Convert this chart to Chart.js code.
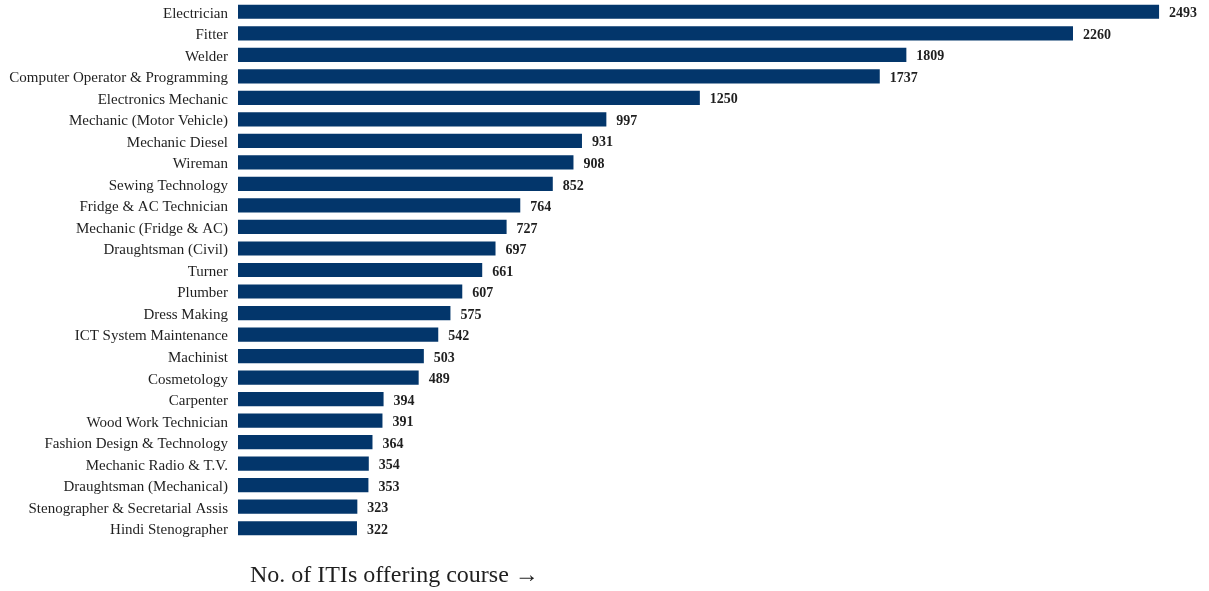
<!DOCTYPE html>
<html>
<head>
<meta charset="utf-8">
<script src="https://cdn.jsdelivr.net/npm/chart.js@4/dist/chart.umd.min.js"></script>
<style>
  html, body { margin: 0; padding: 0; background: #fff; }
  #wrap { width: 1209px; height: 591px; position: relative; }
</style>
</head>
<body>
<div id="wrap"><canvas id="chart"></canvas></div>
<script>
const courses = [
  "Electrician", "Fitter", "Welder", "Computer Operator & Programming",
  "Electronics Mechanic", "Mechanic (Motor Vehicle)", "Mechanic Diesel", "Wireman",
  "Sewing Technology", "Fridge & AC Technician", "Mechanic (Fridge & AC)",
  "Draughtsman (Civil)", "Turner", "Plumber", "Dress Making", "ICT System Maintenance",
  "Machinist", "Cosmetology", "Carpenter", "Wood Work Technician",
  "Fashion Design & Technology", "Mechanic Radio & T.V.", "Draughtsman (Mechanical)",
  "Stenographer & Secretarial Assis", "Hindi Stenographer"
];
const itiCounts = [
  2493, 2260, 1809, 1737, 1250, 997, 931, 908, 852, 764, 727, 697, 661,
  607, 575, 542, 503, 489, 394, 391, 364, 354, 353, 323, 322
];
const axisTitle = "No. of ITIs offering course \u2192";

const SERIF = "'Liberation Serif', 'DejaVu Serif', serif";
const BAR = "#03366b";
const INK = "#1f1f1f";

// value labels at the end of each bar
const valueLabels = {
  id: "valueLabels",
  afterDatasetsDraw(chart) {
    const ctx = chart.ctx;
    const meta = chart.getDatasetMeta(0);
    ctx.save();
    ctx.font = "bold 14px " + SERIF;
    ctx.fillStyle = INK;
    ctx.textAlign = "left";
    ctx.textBaseline = "middle";
    meta.data.forEach((bar, i) => {
      ctx.fillText(String(itiCounts[i]), bar.x + 10, bar.y + 2);
    });
    ctx.restore();
  }
};

// x-axis caption sits under the bars, left of centre
const bottomCaption = {
  id: "bottomCaption",
  afterDraw(chart) {
    const ctx = chart.ctx;
    ctx.save();
    ctx.font = "24px " + SERIF;
    ctx.fillStyle = INK;
    ctx.textAlign = "left";
    ctx.textBaseline = "middle";
    ctx.fillText(axisTitle, chart.chartArea.left + 12, 576);
    ctx.restore();
  }
};

new Chart(document.getElementById("chart"), {
  type: "bar",
  data: {
    labels: courses,
    datasets: [{
      data: itiCounts,
      backgroundColor: BAR,
      borderWidth: 0,
      categoryPercentage: 1,
      barPercentage: 0.66
    }]
  },
  options: {
    indexAxis: "y",
    responsive: true,
    maintainAspectRatio: false,
    animation: false,
    layout: { padding: { top: 1, right: 3, bottom: 52, left: 0 } },
    plugins: {
      legend: { display: false },
      tooltip: { enabled: false }
    },
    scales: {
      x: {
        display: false,
        min: 0,
        max: 2620
      },
      y: {
        grid: { display: false, drawTicks: false },
        border: { display: false },
        afterFit(scale) {
          scale.width = 238;
          scale.paddingTop = 0;
          scale.paddingBottom = 0;
        },
        ticks: {
          color: INK,
          padding: 10,
          labelOffset: 2,
          autoSkip: false,
          font: { family: SERIF, size: 15 }
        }
      }
    }
  },
  plugins: [valueLabels, bottomCaption]
});
</script>
</body>
</html>
